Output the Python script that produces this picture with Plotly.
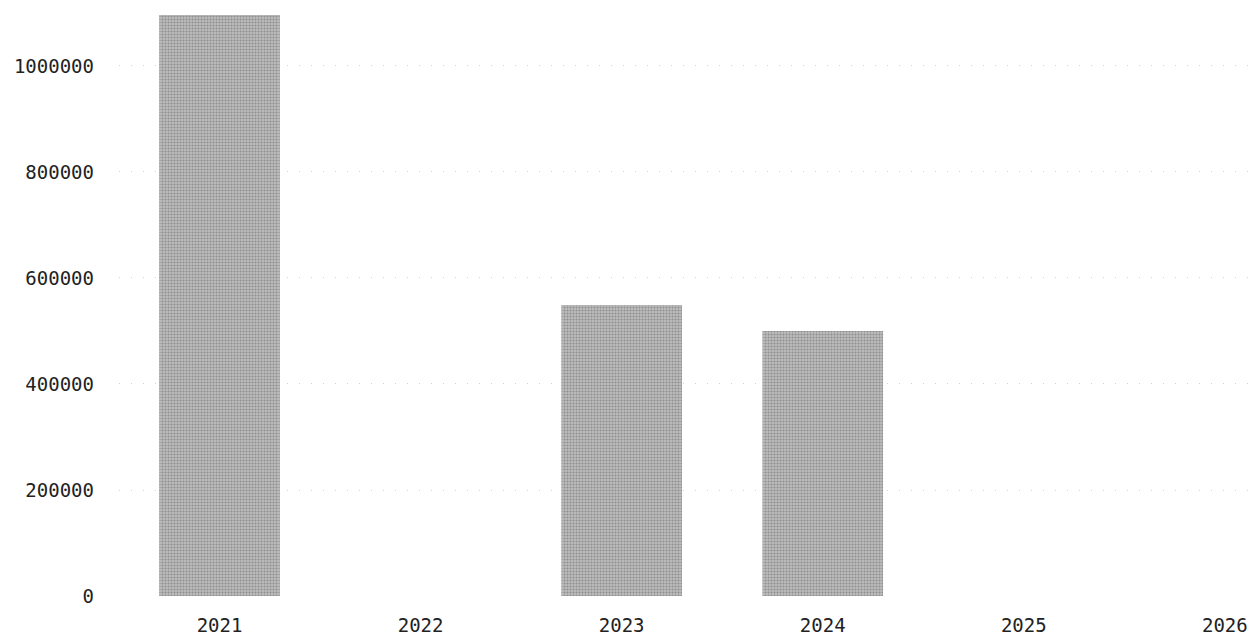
import plotly.graph_objects as go

# Annual values by year
years = ["2021", "2022", "2023", "2024", "2025", "2026"]
values = [1096000, None, 549000, 500000, None, None]

y_ticks = [0, 200000, 400000, 600000, 800000, 1000000]

fig = go.Figure(
    go.Bar(
        x=years,
        y=values,
        width=0.6,
        marker=dict(
            color="#a8a8a8",
            line=dict(width=0),
            pattern=dict(shape=".", fgcolor="#5e5e5e", bgcolor="#bdbdbd", size=3, solidity=0.4),
        ),
        hoverinfo="x+y",
    )
)

fig.update_layout(
    width=1251,
    height=636,
    margin=dict(l=119, r=0, t=0, b=40),
    paper_bgcolor="white",
    plot_bgcolor="white",
    showlegend=False,
    font=dict(family="DejaVu Sans Mono", size=19, color="#222222"),
    xaxis=dict(
        type="category",
        categoryorder="array",
        categoryarray=years,
        range=[-0.5, 5.13],
        showgrid=False,
        showline=False,
        zeroline=False,
        ticks="",
        ticklabelstandoff=16,
    ),
    yaxis=dict(
        range=[0, 1124500],
        tickvals=y_ticks,
        ticktext=[str(v) for v in y_ticks],
        showgrid=True,
        gridcolor="#d2d2d2",
        gridwidth=1,
        griddash="1px,11px",
        zeroline=False,
        showline=False,
        ticks="",
        ticklabelstandoff=24,
    ),
)

fig.write_html("out.html")
